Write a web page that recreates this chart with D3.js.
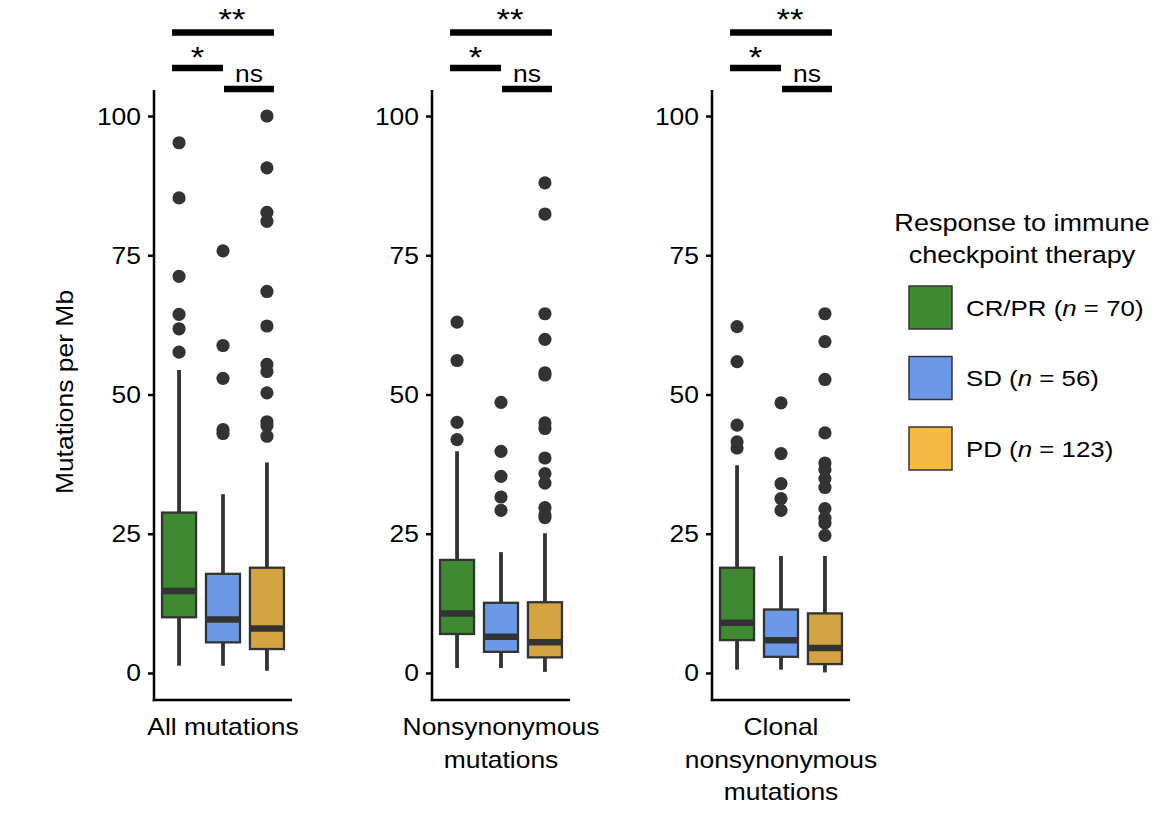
<!DOCTYPE html>
<html>
<head>
<meta charset="utf-8">
<script src="https://cdn.jsdelivr.net/npm/d3@7"></script>
<style>
  html, body { margin: 0; padding: 0; background: #fff; }
  svg text { font-family: "Liberation Sans", Arial, Helvetica, sans-serif; fill: #000; }
</style>
</head>
<body>
<svg id="chart" width="1169" height="824"></svg>
<script>
// ---------------- data ----------------
const panelLabels = [["All mutations"], ["Nonsynonymous", "mutations"], ["Clonal", "nonsynonymous", "mutations"]];
const groups = ["CR/PR", "SD", "PD"];
const groupN = [70, 56, 123];
const yTicks = [0, 25, 50, 75, 100];
const yTitle = "Mutations per Mb";
const legendTitle = ["Response to immune", "checkpoint therapy"];

// box statistics per panel, per group [CR/PR, SD, PD]
const whiskerLow  = [[1.3, 1.3, 0.4], [0.9, 0.9, 0.2], [0.6, 0.6, 0.1]];
const q1          = [[10.0, 5.5, 4.3], [7.0, 3.8, 2.8], [5.9, 2.9, 1.6]];
const medians     = [[14.7, 9.6, 8.0], [10.7, 6.5, 5.5], [9.0, 5.9, 4.5]];
const q3          = [[28.8, 17.8, 18.9], [20.3, 12.6, 12.7], [18.9, 11.4, 10.7]];
const whiskerHigh = [[54.4, 32.1, 37.8], [39.8, 21.7, 25.1], [37.3, 21.0, 21.0]];
const outliers = [
  [[95.2, 85.3, 71.2, 64.4, 61.8, 57.6],
   [75.8, 58.8, 52.9, 43.7, 43.0],
   [100, 90.7, 82.7, 81.1, 68.5, 62.3, 55.4, 54.1, 50.3, 45.1, 44.4, 42.5]],
  [[63.0, 56.1, 45.0, 41.9],
   [48.6, 39.8, 35.3, 31.6, 29.2],
   [88.0, 82.4, 64.5, 59.9, 53.9, 53.5, 44.9, 43.9, 38.6, 35.8, 34.1, 29.7, 28.4, 27.9]],
  [[62.2, 55.9, 44.5, 41.5, 40.4],
   [48.5, 39.4, 34.0, 31.3, 29.2],
   [64.5, 59.5, 52.7, 43.1, 37.7, 36.5, 34.9, 33.3, 29.5, 27.8, 26.9, 24.7]]
];
// significance comparisons (same in every panel)
const sigLabels = ["**", "*", "ns"];
const sigFrom = ["CR/PR", "CR/PR", "SD"];
const sigTo = ["PD", "SD", "PD"];

// ---------------- styling/layout ----------------
const boxFill = ["#3e8932", "#6b99e6", "#d4a443"];
const legendFill = ["#3f8a32", "#6b99e8", "#f5b941"];
const dark = "#333333";
const FS = 23;
const SX = 1.15;
const panelLeft = [154, 432, 712];
const panelW = 138;
const yTop = 90, yBottom = 700;

const svg = d3.select("#chart");

function stretchedText(parent, x, y, str, anchor, size, rotate) {
  const t = parent.append("text")
    .attr("transform", `translate(${x},${y})` + (rotate ? ` rotate(${rotate})` : "") + ` scale(${SX},1)`)
    .attr("text-anchor", anchor || "start")
    .style("font-size", (size || FS) + "px");
  if (str !== null) t.text(str);
  return t;
}

const y = d3.scaleLinear().domain([-4.85, 104.67]).range([yBottom, yTop]);

panelLeft.forEach((left, p) => {
  const g = svg.append("g");
  const x = d3.scalePoint().domain(groups).range([left, left + panelW]).padding(0.57);
  const bw = 34;

  // axes
  const ax = d3.axisLeft(y).tickValues(yTicks).tickSize(6).tickPadding(7).tickSizeOuter(0);
  const axG = g.append("g").attr("transform", `translate(${left},0)`).call(ax);
  axG.select(".domain").remove();
  axG.selectAll(".tick line").attr("stroke", "#000").attr("stroke-width", 2.5);
  axG.selectAll(".tick text").remove();
  yTicks.forEach(v => {
    stretchedText(g, left - 13, y(v) + 8.5, String(v), "end", 23);
  });
  g.append("line").attr("x1", left).attr("x2", left).attr("y1", yTop).attr("y2", yBottom + 1.25)
    .attr("stroke", "#000").attr("stroke-width", 2.5);
  g.append("line").attr("x1", left - 1.25).attr("x2", left + panelW).attr("y1", yBottom).attr("y2", yBottom)
    .attr("stroke", "#000").attr("stroke-width", 2.5);

  // boxes
  groups.forEach((grp, i) => {
    const cx = x(grp);
    g.append("line").attr("x1", cx).attr("x2", cx)
      .attr("y1", y(whiskerLow[p][i])).attr("y2", y(q1[p][i]))
      .attr("stroke", dark).attr("stroke-width", 3.8);
    g.append("line").attr("x1", cx).attr("x2", cx)
      .attr("y1", y(q3[p][i])).attr("y2", y(whiskerHigh[p][i]))
      .attr("stroke", dark).attr("stroke-width", 3.8);
    g.append("rect").attr("x", cx - bw / 2).attr("width", bw)
      .attr("y", y(q3[p][i])).attr("height", y(q1[p][i]) - y(q3[p][i]))
      .attr("fill", boxFill[i]).attr("stroke", dark).attr("stroke-width", 2.3);
    g.append("line").attr("x1", cx - bw / 2).attr("x2", cx + bw / 2)
      .attr("y1", y(medians[p][i])).attr("y2", y(medians[p][i]))
      .attr("stroke", dark).attr("stroke-width", 6.5);
    g.selectAll(null).data(outliers[p][i]).enter().append("circle")
      .attr("cx", cx).attr("cy", d => y(d)).attr("r", 6.6).attr("fill", dark);
  });

  // significance bars
  const barY = [32.5, 68, 89];
  const labY = [29, 67, 82];
  sigLabels.forEach((lab, k) => {
    const x1 = x(sigFrom[k]) + (sigFrom[k] === groups[0] ? -7 : 1);
    const x2 = x(sigTo[k]) + (sigTo[k] === groups[2] ? 7 : 0);
    g.append("line").attr("x1", x1).attr("x2", x2).attr("y1", barY[k]).attr("y2", barY[k])
      .attr("stroke", "#000").attr("stroke-width", 6.5);
    const mid = (x1 + x2) / 2 + (k === 0 ? 9 : 0);
    stretchedText(g, mid, labY[k], lab, "middle", lab === "ns" ? 23 : 30);
  });

  // x labels
  const cxp = left + panelW / 2;
  panelLabels[p].forEach((line, li) => {
    stretchedText(g, cxp, 735 + li * 32.5, line, "middle", FS);
  });
});

// y title
stretchedText(svg, 73, 392, yTitle, "middle", 23, -90);

// legend
legendTitle.forEach((line, li) => {
  stretchedText(svg, 1022, 231 + li * 32, line, "middle", 23.5);
});
groups.forEach((grp, i) => {
  const ky = 286 + i * 70.5;
  svg.append("rect").attr("x", 909).attr("y", ky).attr("width", 43).attr("height", 43)
    .attr("fill", legendFill[i]).attr("stroke", dark).attr("stroke-width", 1.5);
  const t = stretchedText(svg, 966, ky + 29.5, null, "start", 22.5);
  t.append("tspan").text(grp + " (");
  t.append("tspan").style("font-style", "italic").text("n");
  t.append("tspan").text(" = " + groupN[i] + ")");
});
</script>
</body>
</html>
